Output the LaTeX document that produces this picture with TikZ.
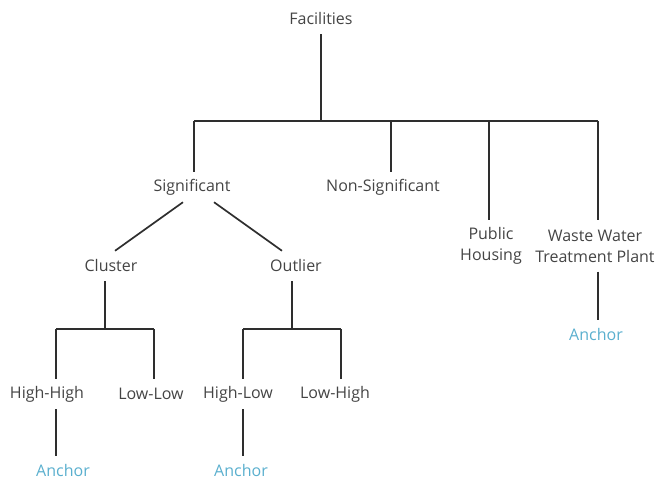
\documentclass[tikz,border=0pt]{standalone}
\usepackage{fontspec}
\setmainfont{Open Sans}
\usepackage{tikz}
\usetikzlibrary{calc}
\definecolor{txtgray}{HTML}{444444}
\definecolor{linegray}{HTML}{2E2E2E}
\definecolor{anchorblue}{HTML}{5AAFCE}

\begin{document}
\begin{tikzpicture}[
    x=1pt, y=-1pt,
    every node/.style={font=\fontsize{16}{21}\selectfont, text=txtgray,
      inner sep=0pt, minimum height=30pt, align=center},
    two line/.style={minimum height=51pt},
    anchor node/.style={text=anchorblue},
    branch/.style={draw=linegray, line width=1.7pt},
    main bar/.style={draw=linegray, line width=2.4pt},
    ]
    \useasboundingbox (0,0) rectangle (657,481);

    % nodes of the tree
    \node (fac) at (321,19) {Facilities};
    \node (sig) at (192,187) {Significant};
    \node (nsig) at (383,187) {Non-Significant};
    \node[two line] (pub) at (491,246) {Public\\Housing};
    \node[two line] (wwtp) at (595,246) {Waste Water\\Treatment Plant};
    \node[anchor node] (anc3) at (596,335) {Anchor};
    \node (cl) at (111,266) {Cluster};
    \node (out) at (296,266) {Outlier};
    \node (hh) at (47,394) {High-High};
    \node (ll) at (151,394) {Low-Low};
    \node (hl) at (238,394) {High-Low};
    \node (lh) at (335,394) {Low-High};
    \node[anchor node] (anc1) at (63,471) {Anchor};
    \node[anchor node] (anc2) at (241,471) {Anchor};

    % junction points
    \coordinate (top) at (321,121);
    \coordinate (b1) at (194,121);
    \coordinate (b2) at (391,121);
    \coordinate (b3) at (489,121);
    \coordinate (b4) at (598,121);
    \coordinate (cj) at (105,329);
    \coordinate (c1) at (56,329);
    \coordinate (c2) at (154,329);
    \coordinate (oj) at (292,329);
    \coordinate (o1) at (243,329);
    \coordinate (o2) at (341,329);

    % first level
    \draw[branch] (fac.south) -- (top);
    \draw[main bar] (b1) -- (b4);
    \draw[branch] (b1) -- (b1 |- sig.north);
    \draw[branch] (b2) -- (b2 |- nsig.north);
    \draw[branch] (b3) -- (b3 |- pub.north);
    \draw[branch] (b4) -- (b4 |- wwtp.north);
    \draw[branch] (b4 |- wwtp.south) -- (b4 |- anc3.north);

    % significant
    \draw[branch] ([xshift=-9pt]sig.south) -- ([xshift=4pt]cl.north);
    \draw[branch] ([xshift=22pt]sig.south) -- ([xshift=-14pt]out.north);

    % cluster
    \draw[branch] (cj |- cl.south) -- (cj);
    \draw[branch] (c1) -- (c2);
    \draw[branch] (c1) -- (c1 |- hh.north);
    \draw[branch] (c2) -- (c2 |- ll.north);
    \draw[branch] (c1 |- hh.south) -- (c1 |- anc1.north);

    % outlier
    \draw[branch] (oj |- out.south) -- (oj);
    \draw[branch] (o1) -- (o2);
    \draw[branch] (o1) -- (o1 |- hl.north);
    \draw[branch] (o2) -- (o2 |- lh.north);
    \draw[branch] (o1 |- hl.south) -- (o1 |- anc2.north);
\end{tikzpicture}
\end{document}
